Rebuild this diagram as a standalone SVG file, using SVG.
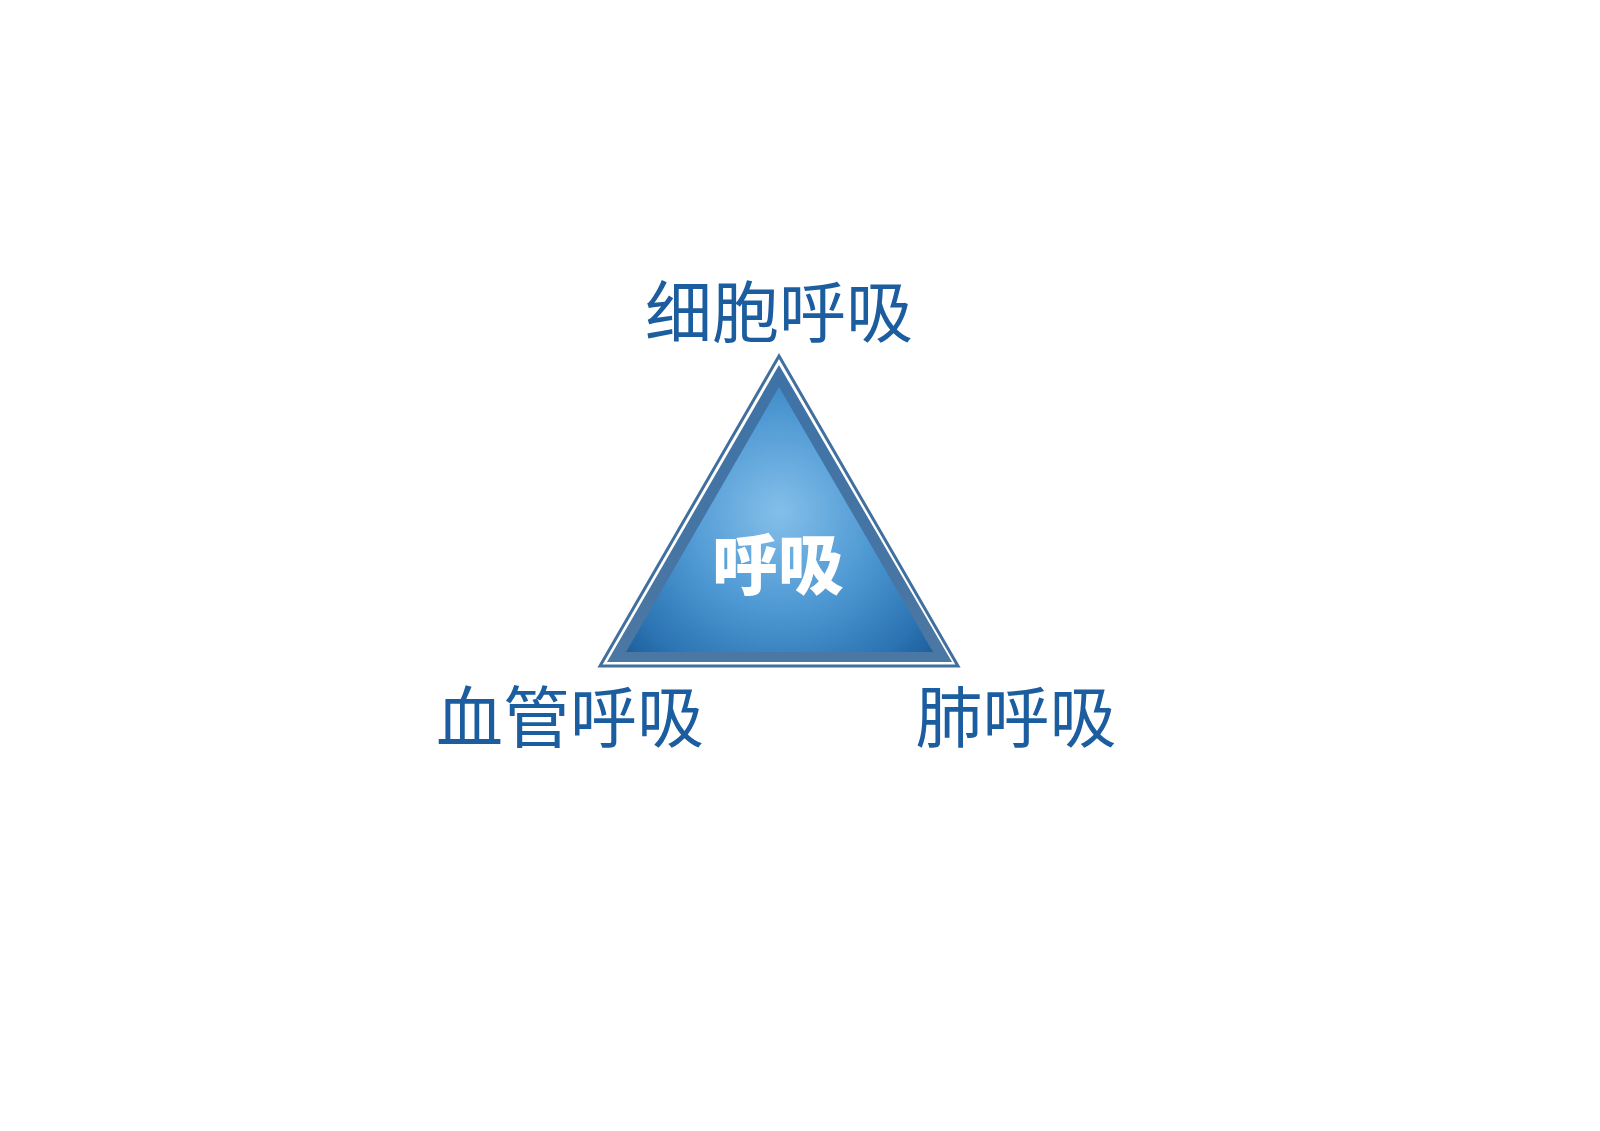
<svg xmlns="http://www.w3.org/2000/svg" width="1600" height="1131" viewBox="0 0 1600 1131">
<defs>
<style>
.lbl{font-family:"Noto Sans CJK SC","Noto Sans CJK TC",sans-serif;font-size:67px;font-weight:400;fill:#1b5d9e;text-anchor:middle}
.ctr{font-family:"Noto Sans CJK SC","Noto Sans CJK TC",sans-serif;font-size:66px;font-weight:900;fill:#ffffff;text-anchor:middle}
</style>
<radialGradient id="fillG" cx="779" cy="512" r="225" gradientUnits="userSpaceOnUse">
<stop offset="0" stop-color="#84bfea"/>
<stop offset="0.45" stop-color="#4c97d2"/>
<stop offset="0.78" stop-color="#2b73b2"/>
<stop offset="1" stop-color="#17558f"/>
</radialGradient>
<linearGradient id="bandG" x1="0" y1="0" x2="0" y2="1">
<stop offset="0" stop-color="#3e72a6"/>
<stop offset="1" stop-color="#4b77a3"/>
</linearGradient>
</defs>
<rect width="1600" height="1131" fill="#ffffff"/>
<g id="triangle">
<polygon points="600,666 779,356 958,666" fill="none" stroke="#41709f" stroke-width="3"/>
<polygon points="607,662 779,365 952,662" fill="url(#bandG)"/>
<polygon points="626,652 779,387 933,652" fill="url(#fillG)"/>
<text class="ctr" x="778" y="589">呼吸</text>
</g>
<g id="node-top">
<text class="lbl" x="779" y="337">细胞呼吸</text>
</g>
<g id="node-left">
<text class="lbl" x="570" y="742">血管呼吸</text>
</g>
<g id="node-right">
<text class="lbl" x="1016" y="742">肺呼吸</text>
</g>
<g id="connectors"></g>
</svg>
